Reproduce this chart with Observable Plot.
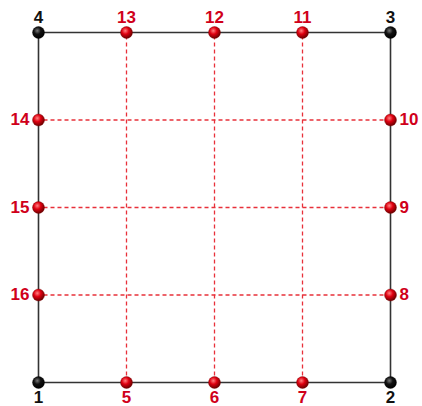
<!DOCTYPE html>
<html>
<head>
<meta charset="utf-8">
<script src="https://cdn.jsdelivr.net/npm/d3@7"></script>
<script src="https://cdn.jsdelivr.net/npm/@observablehq/plot@0.6"></script>
<style>
  html, body { margin: 0; padding: 0; background: #fff; }
</style>
</head>
<body>
<div id="chart"></div>
<script>
const labels = ["1","2","3","4","5","6","7","8","9","10","11","12","13","14","15","16"];
const xs =     [0, 4, 4, 0, 1, 2, 3, 4, 4, 4, 3, 2, 1, 0, 0, 0];
const ys =     [0, 0, 4, 4, 0, 0, 0, 1, 2, 3, 4, 4, 4, 3, 2, 1];
const kinds =  ["corner","corner","corner","corner","red","red","red","red","red","red","red","red","red","red","red","red"];
const sides =  ["bottom","bottom","top","top","bottom","bottom","bottom","right","right","right","top","top","top","left","left","left"];
const boundary = ["1","2","3","4","1"];
const dashedPairs = [["5","13"],["6","12"],["7","11"],["8","16"],["9","15"],["10","14"]];

const nodes = labels.map((l, i) => ({label: l, x: xs[i], y: ys[i], kind: kinds[i], side: sides[i]}));
const byLabel = Object.fromEntries(nodes.map(n => [n.label, n]));
const outline = boundary.map(l => byLabel[l]);
const links = dashedPairs.map(([a, b]) => ({x1: byLabel[a].x, y1: byLabel[a].y, x2: byLabel[b].x, y2: byLabel[b].y}));

const textStyle = {fontSize: 17, fontWeight: "bold", fontFamily: "Liberation Sans, Arial, sans-serif"};
const colorOf = d => d.kind === "red" ? "#d0001a" : "#111";

const svg = Plot.plot({
  width: 422,
  height: 406,
  marginLeft: 38,
  marginRight: 32,
  marginTop: 32,
  marginBottom: 24,
  x: {domain: [0, 4], axis: null},
  y: {domain: [0, 4], axis: null},
  marks: [
    Plot.link(links, {x1: "x1", y1: "y1", x2: "x2", y2: "y2", stroke: "#e8303a", strokeWidth: 1.3, strokeDasharray: "4,3"}),
    Plot.line(outline, {x: "x", y: "y", stroke: "#333", strokeWidth: 1.6}),
    Plot.dot(nodes.filter(d => d.kind === "red"), {x: "x", y: "y", r: 6, fill: "url(#redball)", stroke: "#7a0000", strokeWidth: 0.4}),
    Plot.dot(nodes.filter(d => d.kind === "corner"), {x: "x", y: "y", r: 6, fill: "url(#blackball)", stroke: "#000", strokeWidth: 0.4}),
    Plot.text(nodes.filter(d => d.side === "top"), {x: "x", y: "y", text: "label", dy: -15, fill: colorOf, ...textStyle}),
    Plot.text(nodes.filter(d => d.side === "bottom"), {x: "x", y: "y", text: "label", dy: 15, fill: colorOf, ...textStyle}),
    Plot.text(nodes.filter(d => d.side === "left"), {x: "x", y: "y", text: "label", dx: -9, textAnchor: "end", fill: colorOf, ...textStyle}),
    Plot.text(nodes.filter(d => d.side === "right"), {x: "x", y: "y", text: "label", dx: 9, textAnchor: "start", fill: colorOf, ...textStyle})
  ]
});

const defs = d3.select(svg).insert("defs", ":first-child");
const rg = defs.append("radialGradient").attr("id", "redball").attr("cx", "40%").attr("cy", "35%").attr("r", "65%");
rg.append("stop").attr("offset", "0%").attr("stop-color", "#ff8080");
rg.append("stop").attr("offset", "45%").attr("stop-color", "#e00010");
rg.append("stop").attr("offset", "100%").attr("stop-color", "#6a0000");
const bg = defs.append("radialGradient").attr("id", "blackball").attr("cx", "40%").attr("cy", "35%").attr("r", "65%");
bg.append("stop").attr("offset", "0%").attr("stop-color", "#777");
bg.append("stop").attr("offset", "45%").attr("stop-color", "#111");
bg.append("stop").attr("offset", "100%").attr("stop-color", "#000");

document.getElementById("chart").appendChild(svg);
</script>
</body>
</html>
